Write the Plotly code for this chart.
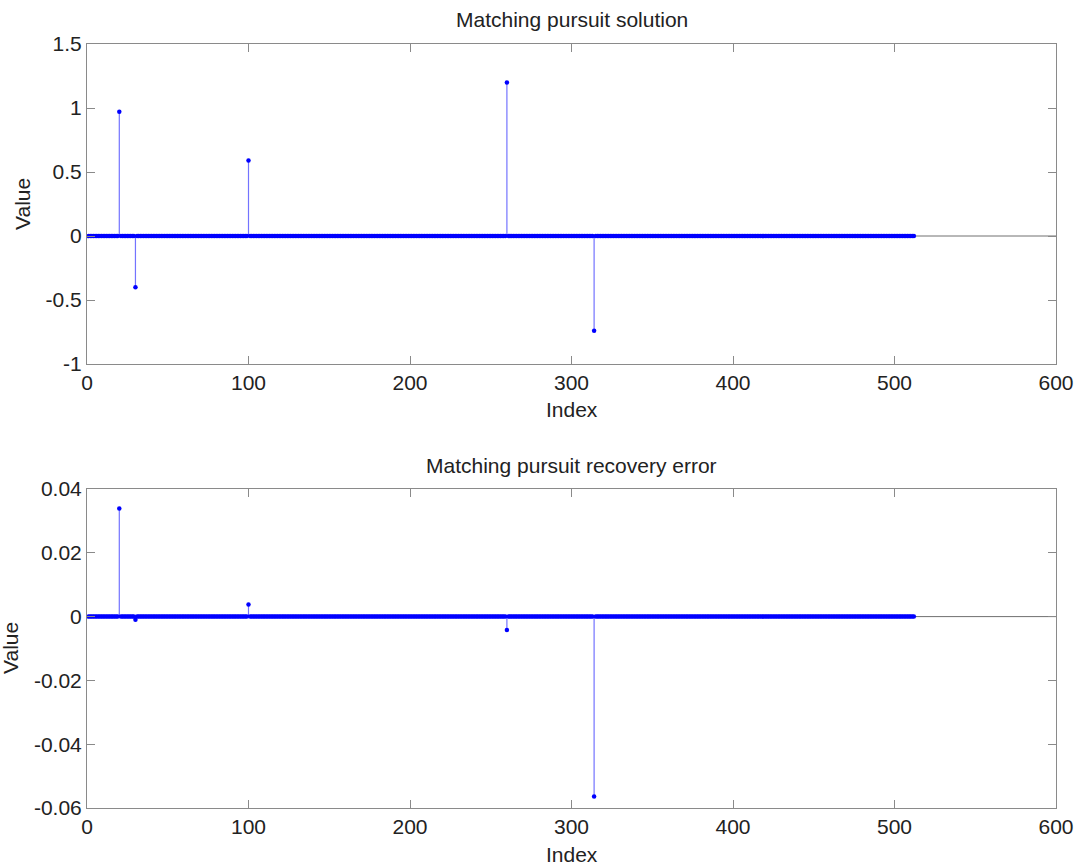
import numpy as np
import plotly.graph_objects as go

# Signal length and the sparse support found by matching pursuit
n_samples = 512
support_idx = [20, 30, 100, 260, 314]
solution_vals = [0.97, -0.40, 0.59, 1.20, -0.74]
error_vals = [0.0339, -0.0010, 0.0038, -0.0042, -0.0564]

x_ticks = [0, 100, 200, 300, 400, 500, 600]
top_y_ticks = [-1, -0.5, 0, 0.5, 1, 1.5]
bottom_y_ticks = [-0.06, -0.04, -0.02, 0, 0.02, 0.04]


def full_signal(vals):
    y = np.zeros(n_samples)
    for i, v in zip(support_idx, vals):
        y[i - 1] = v
    return y


idx = np.arange(1, n_samples + 1)
FONT = "Liberation Sans, Arial, Helvetica, sans-serif"
W, H = 1079, 867


def px_x(p):
    return p / W


def px_y(p):
    return 1 - p / H


fig = go.Figure()


def add_stem(vals, xa, ya):
    y = full_signal(vals)
    # baseline across the whole axis
    fig.add_trace(go.Scatter(x=[0, 600], y=[0, 0], mode="lines",
                             line=dict(color="#707070", width=1),
                             xaxis=xa, yaxis=ya, hoverinfo="skip"))
    sx, sy = [], []
    for i, v in zip(idx, y):
        if v != 0:
            sx += [i, i, None]
            sy += [0, v, None]
    fig.add_trace(go.Scatter(x=sx, y=sy, mode="lines",
                             line=dict(color="rgba(40,40,255,0.65)", width=1.2),
                             xaxis=xa, yaxis=ya, hoverinfo="skip"))
    fig.add_trace(go.Scatter(x=idx, y=y, mode="markers",
                             marker=dict(color="#0000ff", size=4.5, line=dict(width=0)),
                             xaxis=xa, yaxis=ya))


add_stem(solution_vals, "x", "y")
add_stem(error_vals, "x2", "y2")

axis_common = dict(showline=True, linecolor="#8a8a8a", linewidth=1, mirror="ticks",
                   ticks="inside", ticklen=8, tickcolor="#8a8a8a", showgrid=False,
                   zeroline=False, tickfont=dict(family=FONT, size=21, color="#222"),
                   automargin=False)

xdom = [px_x(87), px_x(1056)]
fig.update_layout(
    width=W, height=H, margin=dict(l=0, r=0, t=0, b=0),
    paper_bgcolor="white", plot_bgcolor="white", showlegend=False,
    xaxis=dict(domain=xdom, range=[0, 600], tickvals=x_ticks, anchor="y", **axis_common),
    yaxis=dict(domain=[px_y(364), px_y(44)], range=[-1, 1.5], tickvals=top_y_ticks,
               ticktext=["-1", "-0.5", "0", "0.5", "1", "1.5"], anchor="x", **axis_common),
    xaxis2=dict(domain=xdom, range=[0, 600], tickvals=x_ticks, anchor="y2", **axis_common),
    yaxis2=dict(domain=[px_y(808), px_y(489)], range=[-0.06, 0.04], tickvals=bottom_y_ticks,
                ticktext=["-0.06", "-0.04", "-0.02", "0", "0.02", "0.04"], anchor="x2",
                **axis_common),
)

xc = (87 + 1056) / 2 / W
ann = [
    ("Matching pursuit solution", xc, px_y(20), 0, 21),
    ("Index", xc, px_y(409), 0, 21),
    ("Value", px_x(22), px_y(204), -90, 21),
    ("Matching pursuit recovery error", xc, px_y(465), 0, 21),
    ("Index", xc, px_y(854), 0, 21),
    ("Value", px_x(10), px_y(648), -90, 21),
]
for text, x, y, ang, size in ann:
    fig.add_annotation(text=text, x=x, y=y, xref="paper", yref="paper",
                       xanchor="center", yanchor="middle", showarrow=False,
                       textangle=ang, font=dict(family=FONT, size=size, color="#222"))

fig.write_html("out.html")
